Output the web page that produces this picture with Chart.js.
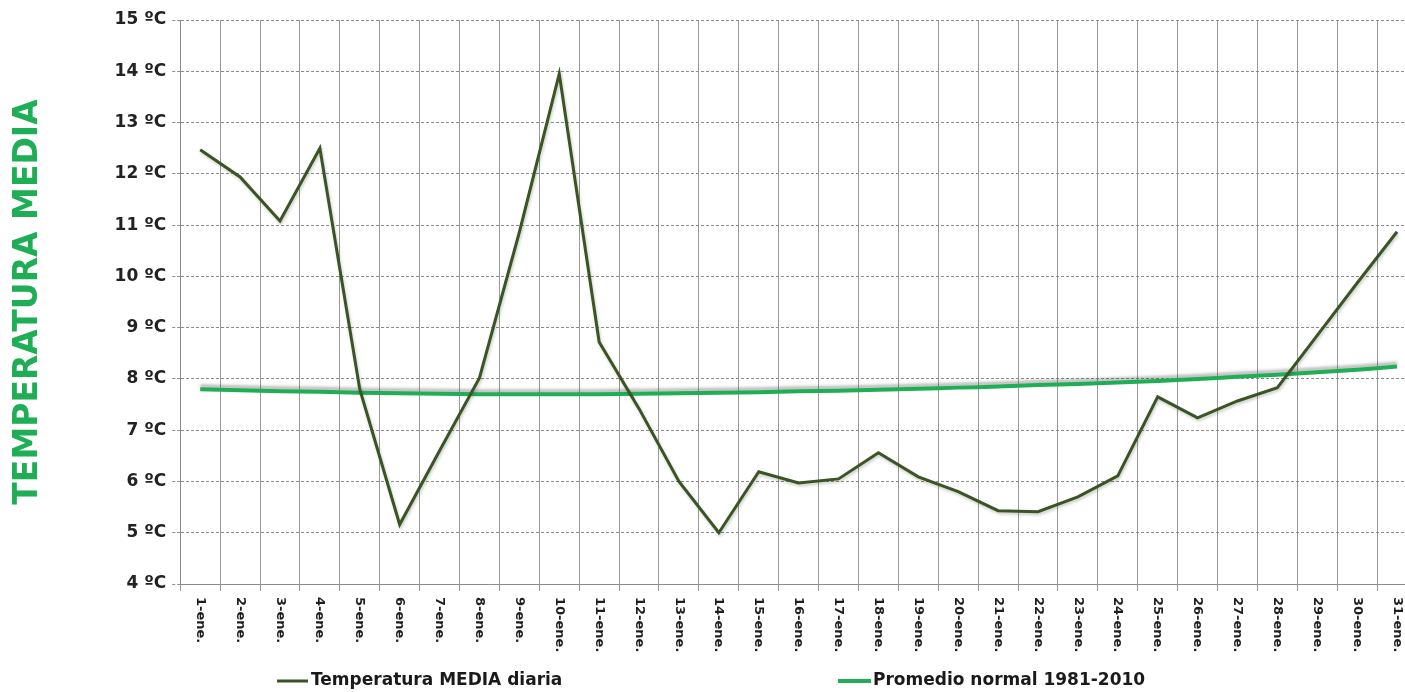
<!DOCTYPE html>
<html>
<head>
<meta charset="utf-8">
<script src="https://cdn.jsdelivr.net/npm/chart.js@4"></script>
<style>
html,body{margin:0;padding:0;background:#fff;overflow:hidden;width:1405px;height:692px;}
#wrap{width:1420px;height:692px;}
</style>
</head>
<body>
<div id="wrap"><canvas id="c" width="1420" height="692"></canvas></div>
<script>
const categories = ["1-ene.","2-ene.","3-ene.","4-ene.","5-ene.","6-ene.","7-ene.","8-ene.","9-ene.","10-ene.","11-ene.","12-ene.","13-ene.","14-ene.","15-ene.","16-ene.","17-ene.","18-ene.","19-ene.","20-ene.","21-ene.","22-ene.","23-ene.","24-ene.","25-ene.","26-ene.","27-ene.","28-ene.","29-ene.","30-ene.","31-ene."];
const tempMedia = [12.47,11.94,11.08,12.5,7.8,5.16,6.6,8.02,10.86,13.95,8.72,7.42,6.0,5.0,6.19,5.97,6.05,6.56,6.09,5.8,5.43,5.41,5.7,6.11,7.65,7.24,7.57,7.83,8.85,9.87,10.87];
const normal8110 = [7.80,7.78,7.76,7.75,7.73,7.72,7.71,7.70,7.70,7.70,7.70,7.71,7.72,7.73,7.74,7.76,7.77,7.79,7.81,7.83,7.85,7.88,7.90,7.93,7.96,8.00,8.04,8.08,8.13,8.18,8.24];
const yTicks = [4,5,6,7,8,9,10,11,12,13,14,15];
const seriesNames = ["Temperatura MEDIA diaria","Promedio normal 1981-2010"];
const yTitle = "TEMPERATURA MEDIA";

const darkCol = "#3a5426";
const greenCol = "#1fad55";

const bgPlugin = {
  id: 'bg',
  beforeDraw(chart){
    const c = chart.ctx;
    c.save(); c.fillStyle = '#fff'; c.fillRect(0,0,chart.width,chart.height); c.restore();
  }
};

const shadowPlugin = {
  id: 'shadow',
  beforeDatasetDraw(chart, args){
    const c = chart.ctx;
    c.save();
    if (args.index === 1) {
      c.shadowColor = 'rgba(60,60,60,0.35)';
      c.shadowBlur = 3;
      c.shadowOffsetX = 0;
      c.shadowOffsetY = -3;
    } else {
      c.shadowColor = 'rgba(40,60,20,0.25)';
      c.shadowBlur = 3;
      c.shadowOffsetX = 1;
      c.shadowOffsetY = 2;
    }
  },
  afterDatasetDraw(chart){
    chart.ctx.restore();
  }
};

const labelPlugin = {
  id: 'xlabels',
  afterDraw(chart){
    const c = chart.ctx;
    const xs = chart.scales.x;
    c.save();
    c.fillStyle = '#1e1e1e';
    c.font = 'bold 13px "DejaVu Sans"';
    c.textAlign = 'left';
    c.textBaseline = 'middle';
    const y0 = xs.top + 13;
    categories.forEach((lab, i) => {
      const x = xs.getPixelForTick(i);
      c.save();
      c.translate(x, y0);
      c.rotate(Math.PI/2);
      c.fillText(lab, 0, 0);
      c.restore();
    });
    // legend
    const ly = 681;
    c.font = 'bold 17px "DejaVu Sans"';
    c.lineWidth = 3;
    c.strokeStyle = darkCol;
    c.beginPath(); c.moveTo(277, ly); c.lineTo(308, ly); c.stroke();
    c.fillStyle = '#1a1a1a';
    c.fillText(seriesNames[0], 311, ly);
    c.lineWidth = 4;
    c.strokeStyle = greenCol;
    c.beginPath(); c.moveTo(838, ly); c.lineTo(871, ly); c.stroke();
    c.fillText(seriesNames[1], 873, ly);
    c.restore();
  }
};

new Chart(document.getElementById('c'), {
  type: 'line',
  data: {
    labels: categories,
    datasets: [
      { label: seriesNames[0], data: tempMedia, borderColor: darkCol, borderWidth: 3, pointRadius: 0, tension: 0, fill: false },
      { label: seriesNames[1], data: normal8110, borderColor: greenCol, borderWidth: 4, pointRadius: 0, tension: 0.3, fill: false }
    ]
  },
  options: {
    responsive: false,
    animation: false,
    devicePixelRatio: 1,
    layout: { padding: { top: 20, right: 3, bottom: 101, left: 0 } },
    plugins: { legend: { display: false }, tooltip: { enabled: false } },
    scales: {
      x: {
        offset: true,
        grid: { offset: true, color: '#9a9a9a', lineWidth: 1, tickLength: 7, tickColor: '#9a9a9a' },
        border: { color: '#8a8a8a', width: 1 },
        ticks: { display: false }
      },
      y: {
        min: 4, max: 15,
        afterBuildTicks(scale){ scale.ticks = yTicks.map(v => ({ value: v })); },
        grid: { color: '#8c8c8c', lineWidth: 1, tickLength: 8, tickColor: '#8c8c8c', tickBorderDash: [3,2] },
        border: { color: '#8a8a8a', width: 1, dash: [3,2] },
        ticks: { color: '#222', padding: 6, font: { family: 'DejaVu Sans', size: 17, weight: 'bold' }, callback: v => v + ' ºC' },
        title: { display: true, text: yTitle, color: greenCol, padding: { top: 9, bottom: 60 }, font: { family: 'DejaVu Sans', size: 33, weight: 'bold' } }
      }
    }
  },
  plugins: [bgPlugin, shadowPlugin, labelPlugin]
});
</script>
</body>
</html>
